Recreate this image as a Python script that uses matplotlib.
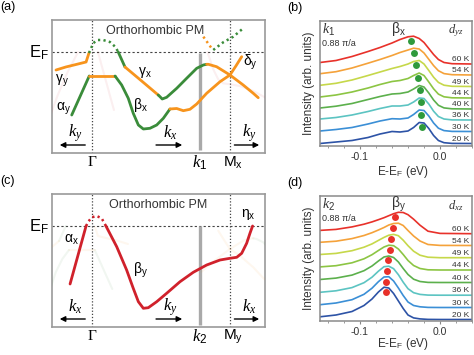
import numpy as np
import matplotlib
matplotlib.use('Agg')
import matplotlib.pyplot as plt
from matplotlib.ticker import MultipleLocator

plt.rcParams['font.family'] = ['Liberation Sans', 'DejaVu Sans']
plt.rcParams['mathtext.fontset'] = 'custom'
plt.rcParams['mathtext.rm'] = 'Liberation Sans'
plt.rcParams['mathtext.it'] = 'Liberation Serif:italic'
plt.rcParams['mathtext.bf'] = 'Liberation Sans:bold'

W, H = 474, 355

# ---------------- schematic bands (k in units of Gamma-M, E relative to E_F) ----------------
k1 = 0.783
k2 = 0.783

# panel (a)
gy_k = [-0.261, -0.19, -0.116, -0.043, -0.022]
gy_E = [-0.18, -0.15, -0.125, -0.10, -0.01]
arch_a_k = [-0.022, 0.01, 0.04, 0.08, 0.13, 0.17, 0.19]
arch_a_E = [-0.01, 0.09, 0.12, 0.12, 0.10, 0.05, 0.0]
gx_top_k = [0.19, 0.239]
gx_top_E = [0.0, -0.15]
gx_k = [0.239, 0.36, 0.48]
gx_E = [-0.15, -0.29, -0.43]
gx_green_k = [0.48, 0.493, 0.509, 0.541, 0.614, 0.686, 0.759, 0.807, 0.831]
gx_green_E = [-0.43, -0.447, -0.47, -0.453, -0.363, -0.263, -0.163, -0.13, -0.123]
gx_m_k = [0.831, 0.843, 0.903, 1.0, 1.096, 1.169, 1.205]
gx_m_E = [-0.123, -0.123, -0.147, -0.23, -0.33, -0.413, -0.457]
ay_k = [-0.147, -0.02]
ay_E = [-0.63, -0.24]
plat_k = [-0.02, 0.167]
plat_E = [-0.24, -0.24]
bx_k = [0.167, 0.215, 0.263, 0.299, 0.336, 0.372, 0.42, 0.469, 0.517, 0.565]
bx_E = [-0.24, -0.33, -0.463, -0.613, -0.73, -0.77, -0.763, -0.73, -0.663, -0.57]
dy_k = [0.565, 0.614, 0.662, 0.71, 0.759, 0.831, 0.928, 1.0, 1.043, 1.085]
dy_E = [-0.57, -0.565, -0.587, -0.573, -0.52, -0.413, -0.297, -0.23, -0.14, -0.047]
odot_k = [0.807, 0.867]
odot_E = [0.153, 0.037]
gdot_k = [0.879, 0.951, 1.024, 1.096]
gdot_E = [0.02, 0.097, 0.153, 0.237]

# panel (c)
axc_k = [-0.159, -0.043]
axc_E = [-0.58, 0.0]
arch_c_k = [-0.043, -0.027, -0.002, 0.034, 0.07, 0.101]
arch_c_E = [0.0, 0.043, 0.087, 0.1, 0.077, 0.0]
by_k = [0.101, 0.179, 0.251, 0.299, 0.336, 0.372, 0.408, 0.469, 0.541, 0.638,
        0.734, 0.831, 0.928, 1.0, 1.049, 1.085, 1.121, 1.145, 1.164]
by_E = [0.0, -0.207, -0.44, -0.623, -0.757, -0.823, -0.817, -0.757, -0.673, -0.557,
        -0.463, -0.39, -0.34, -0.323, -0.313, -0.273, -0.173, -0.073, 0.0]

# ---------------- EDC data ----------------
temps = [20, 30, 36, 40, 44, 49, 54, 60]
colors = ['#2d53a6', '#3b8fd6', '#5cc4c2', '#5cb04c', '#8cc543', '#c6d84a', '#f5a23a', '#e8312a']

energy_b = [-0.15, -0.13, -0.11, -0.09, -0.075, -0.06, -0.05, -0.04, -0.033, -0.026,
            -0.02, -0.014, -0.008, -0.002, 0.005, 0.015, 0.04]
edc_b = [
    [0, 1.5, 3, 6, 9.5, 12, 11.5, 12.5, 16, 21, 20.5, 15, 8, 3, 0.8, 0.1, 0],
    [0.5, 2, 4, 7.5, 10.5, 12.8, 12.5, 13.5, 17, 21.5, 21, 15.5, 8.5, 3.3, 0.9, 0.1, 0],
    [1, 2.5, 5, 8.5, 11.5, 14, 14, 15, 18, 22, 21.5, 16, 8.8, 3.5, 1, 0.1, 0],
    [1, 2.8, 5.5, 9.5, 12.5, 15, 15.5, 17, 20, 23.5, 22, 16, 9, 3.7, 1.1, 0.2, 0],
    [1, 3, 6, 10, 13.5, 16.5, 17.5, 19.5, 22.5, 25, 22.5, 16, 9.2, 3.9, 1.2, 0.2, 0],
    [1.2, 3.2, 6.5, 11, 14.5, 18, 20, 22.5, 25, 26, 22.5, 16, 9.3, 4.1, 1.3, 0.2, 0],
    [1.3, 3.3, 7, 11.8, 15.5, 19.5, 22.5, 25, 26.8, 26, 22, 15.7, 9.4, 4.3, 1.4, 0.3, 0],
    [1.5, 3.5, 7.5, 12.5, 16.5, 21, 24.5, 27.2, 27.8, 25.5, 21.5, 15.5, 9.5, 4.5, 1.5, 0.3, 0],
]
offset_b = [2.5, 14.5, 26, 37, 48, 59.5, 71, 82]
peak_b_E = [-0.0225, -0.024, -0.024, -0.025, -0.027, -0.030, -0.032, -0.036]
peak_b_h = [17, 17, 18, 19, 20.5, 21.5, 22, 23.3]

energy_d = [-0.15, -0.13, -0.11, -0.095, -0.085, -0.077, -0.07, -0.064, -0.058, -0.052,
            -0.046, -0.04, -0.033, -0.025, -0.015, 0.0, 0.04]
edc_d = [
    [2.7, 4.5, 8, 14, 20.5, 27.5, 32.3, 31.5, 26, 18.5, 11, 4.5, 1.6, 0.6, 0.1, 0, 0],
    [2.8, 4.5, 7.8, 13.2, 19.3, 25.8, 30.5, 30.8, 26.5, 19.5, 12, 5.5, 2, 0.7, 0.1, 0, 0],
    [2.9, 4.4, 7.6, 12.5, 18, 24, 28.5, 29, 26.5, 20.5, 13, 6.5, 2.5, 0.8, 0.1, 0, 0],
    [3, 4.4, 7.4, 11.8, 16.5, 21.5, 25.5, 26.5, 25, 20.5, 14, 8, 3.3, 1, 0.1, 0, 0],
    [3.1, 4.3, 7.2, 11.2, 15.3, 19.5, 23, 24.8, 24.3, 21, 15.5, 9.5, 4.5, 1.5, 0.2, 0, 0],
    [3.2, 4.3, 7, 10.5, 13.8, 17.3, 20.3, 22.5, 23.3, 22, 17.5, 12, 6.5, 2.5, 0.5, 0, 0],
    [3.2, 4.3, 6.9, 10, 12.8, 15.5, 18, 20.5, 22, 22.3, 20, 15, 9.5, 4.5, 1, 0.1, 0],
    [3.3, 4.3, 6.8, 9.5, 11.8, 14, 16, 18, 20, 21.4, 21.2, 19, 14.5, 8.5, 2.5, 0.3, 0],
]
offset_d = [1.5, 13.5, 25.8, 38.5, 51, 63.3, 75.5, 87.3]
peak_d_E = [-0.0675, -0.067, -0.066, -0.065, -0.063, -0.061, -0.059, -0.056]
peak_d_h = [27.8, 26, 24.5, 22.3, 20.5, 19, 17.7, 16.5]

ORANGE = '#f7941d'
GREEN = '#3a8c3a'
RED = '#d0212b'
DOTS = (0, (0.9, 1.3))

fig = plt.figure(figsize=(W / 100, H / 100), dpi=100)


def box(x0, y0, x1, y1):
    return [x0 / W, 1 - y1 / H, (x1 - x0) / W, (y1 - y0) / H]


def frame(ax):
    ax.set_xlim(-0.29, 1.254)
    ax.set_ylim(-1.01, 0.32)
    ax.set_xticks([])
    ax.set_yticks([])
    for s in ax.spines.values():
        s.set_color('#9a9a9a')
        s.set_linewidth(1.2)
    ax.axhline(0, color='#444444', lw=0.8, ls=(0, (2, 2)), zorder=1)
    ax.axvline(0, color='#444444', lw=0.9, ls=(0, (1, 1.5)), zorder=1)
    ax.axvline(1.0, color='#444444', lw=0.9, ls=(0, (1, 1.5)), zorder=1)


def band(ax, k, e, c, alpha=1.0, lw=2.0):
    ax.plot(k, e, color=c, lw=lw, alpha=alpha, solid_capstyle='round',
            solid_joinstyle='round', zorder=3)


def dotted(ax, k, e, c):
    ax.plot(k, e, color=c, lw=1.8, ls=DOTS, dash_capstyle='butt', zorder=3)


def ghost(ax, segs):
    for k, e, c in segs:
        k = np.asarray(k)
        band(ax, -k, e, c, alpha=0.07, lw=1.5)
        band(ax, 2 - k, e, c, alpha=0.07, lw=1.5)


def arrows(ax, labels):
    ax.annotate('', xy=(-0.254, -0.93), xytext=(-0.029, -0.93),
                arrowprops=dict(arrowstyle='-|>', color='k', lw=1, mutation_scale=8))
    ax.annotate('', xy=(0.674, -0.93), xytext=(0.444, -0.93),
                arrowprops=dict(arrowstyle='-|>', color='k', lw=1, mutation_scale=8))
    ax.annotate('', xy=(1.232, -0.93), xytext=(1.012, -0.93),
                arrowprops=dict(arrowstyle='-|>', color='k', lw=1, mutation_scale=8))
    for (x, lab) in zip([-0.12, 0.565, 1.14], labels):
        ax.text(x, -0.81, lab, ha='center', va='center', fontsize=12)


segs_a = [(gy_k, gy_E, ORANGE), (gx_top_k, gx_top_E, GREEN), (gx_k, gx_E, ORANGE),
          (gx_green_k, gx_green_E, GREEN), (gx_m_k, gx_m_E, ORANGE), (ay_k, ay_E, GREEN),
          (plat_k, plat_E, ORANGE), (bx_k, bx_E, GREEN), (dy_k, dy_E, ORANGE)]
segs_c = [(axc_k, axc_E, RED), (by_k, by_E, RED)]

# ---------- (a) ----------
ax = fig.add_axes(box(52, 20, 265, 153))
frame(ax)
ghost(ax, segs_c)
ax.plot([k1, k1], [-0.01, -0.98], color='#a9a9a9', lw=2.4, solid_capstyle='butt', zorder=2)
for k, e, c in segs_a:
    band(ax, k, e, c)
dotted(ax, arch_a_k, arch_a_E, GREEN)
dotted(ax, odot_k, odot_E, ORANGE)
dotted(ax, gdot_k, gdot_E, GREEN)
ax.text(0.457, 0.215, 'Orthorhombic PM', ha='center', va='center', fontsize=9, color='#333333')
ax.text(-0.312, -0.055, r'E$_\mathrm{F}$', ha='right', va='baseline', fontsize=12, clip_on=False)
ax.text(-0.215, -0.28, r'γ$_\mathrm{y}$', ha='center', va='center', fontsize=10)
ax.text(-0.21, -0.56, r'α$_\mathrm{y}$', ha='center', va='center', fontsize=10)
ax.text(0.384, -0.20, r'γ$_\mathrm{x}$', ha='center', va='center', fontsize=10)
ax.text(0.348, -0.53, r'β$_\mathrm{x}$', ha='center', va='center', fontsize=10)
ax.text(1.145, -0.11, r'δ$_\mathrm{y}$', ha='center', va='center', fontsize=10)
arrows(ax, [r'$k_y$', r'$k_x$', r'$k_y$'])
ax.text(0, -1.11, 'Γ', ha='center', va='center', fontsize=11, family='Liberation Serif', clip_on=False)
ax.text(k1, -1.11, r'$k_1$', ha='center', va='center', fontsize=12, clip_on=False)
ax.text(1.02, -1.11, r'M$_\mathrm{x}$', ha='center', va='center', fontsize=11, clip_on=False)

# ---------- (c) ----------
ax = fig.add_axes(box(52, 194, 265, 327))
frame(ax)
ghost(ax, segs_a)
ax.plot([k2, k2], [0.0, -0.99], color='#a9a9a9', lw=2.4, solid_capstyle='butt', zorder=2)
for k, e, c in segs_c:
    band(ax, k, e, c)
dotted(ax, arch_c_k, arch_c_E, RED)
ax.text(0.48, 0.215, 'Orthorhombic PM', ha='center', va='center', fontsize=9, color='#333333')
ax.text(-0.312, -0.055, r'E$_\mathrm{F}$', ha='right', va='baseline', fontsize=12, clip_on=False)
ax.text(-0.147, -0.14, r'α$_\mathrm{x}$', ha='center', va='center', fontsize=10)
ax.text(0.348, -0.44, r'β$_\mathrm{y}$', ha='center', va='center', fontsize=10)
ax.text(1.133, 0.11, r'η$_\mathrm{x}$', ha='center', va='center', fontsize=10)
arrows(ax, [r'$k_x$', r'$k_y$', r'$k_x$'])
ax.text(0, -1.10, 'Γ', ha='center', va='center', fontsize=11, family='Liberation Serif', clip_on=False)
ax.text(k2, -1.11, r'$k_2$', ha='center', va='center', fontsize=12, clip_on=False)
ax.text(1.02, -1.11, r'M$_\mathrm{y}$', ha='center', va='center', fontsize=11, clip_on=False)


# ---------- EDC panels ----------
def edc_panel(rect, energy, curves, offsets, pk_E, pk_h, dot_color, klab, blab, dlab, xlab_y):
    ax = fig.add_axes(rect)
    for T, c, off, y in zip(temps, colors, offsets, curves):
        ax.plot(energy, np.array(y) + off, color=c, lw=1.2)
        ax.text(0.037, off + 0.8, f'{T} K', ha='right', va='bottom', fontsize=6, color='#333333')
    ax.plot(pk_E, np.array(pk_h) + np.array(offsets), 'o', color=dot_color, ms=5, mec='none')
    ax.set_xlim(-0.15, 0.04)
    ax.set_ylim(0, 125)
    ax.set_yticks([])
    ax.set_xticks([-0.1, 0.0])
    ax.set_xticklabels(['-0.1', '0.0'])
    ax.xaxis.set_minor_locator(MultipleLocator(0.02))
    ax.tick_params(axis='x', which='major', length=2.5, width=0.8, pad=1.5, labelsize=7.5,
                   color='#888888', labelcolor='#333333')
    ax.tick_params(axis='x', which='minor', length=1.5, width=0.6, color='#888888')
    for s in ax.spines.values():
        s.set_color('#8a8a8a')
        s.set_linewidth(1.1)
    ax.set_ylabel('Intensity (arb. units)', fontsize=8.5, color='#333333')
    ax.yaxis.set_label_coords(-0.033, 0.5)
    ax.text(0.546, xlab_y, r'E-E$_\mathrm{F}$ (eV)', transform=ax.transAxes, ha='center',
            va='center', fontsize=8.5, color='#333333')
    ax.text(-0.147, 116.5, klab, ha='left', va='center', fontsize=10, color='#333333')
    ax.text(-0.1475, 103, '0.88 π/a', ha='left', va='center', fontsize=6.5, color='#333333')
    ax.text(-0.052, 117, blab, ha='center', va='center', fontsize=10, color='#333333')
    ax.text(0.02, 115, dlab, ha='center', va='center', fontsize=9, color='#333333')
    return ax


edc_panel(box(320, 21, 472, 146), energy_b, edc_b, offset_b, peak_b_E, peak_b_h, '#2f9a3c',
          r'$k_1$', r'β$_\mathrm{x}$', r'$d_{yz}$', -(172 - 146) / 125)
edc_panel(box(320, 196, 472, 321), energy_d, edc_d, offset_d, peak_d_E, peak_d_h, '#e8302a',
          r'$k_2$', r'β$_\mathrm{y}$', r'$d_{xz}$', -(344 - 321) / 125)

fig.text(8 / W, 1 - 7 / H, '(a)', ha='center', va='center', fontsize=9)
fig.text(295 / W, 1 - 8 / H, '(b)', ha='center', va='center', fontsize=9)
fig.text(8 / W, 1 - 181 / H, '(c)', ha='center', va='center', fontsize=9)
fig.text(295 / W, 1 - 183 / H, '(d)', ha='center', va='center', fontsize=9)

fig.savefig('out.png', dpi=100)
